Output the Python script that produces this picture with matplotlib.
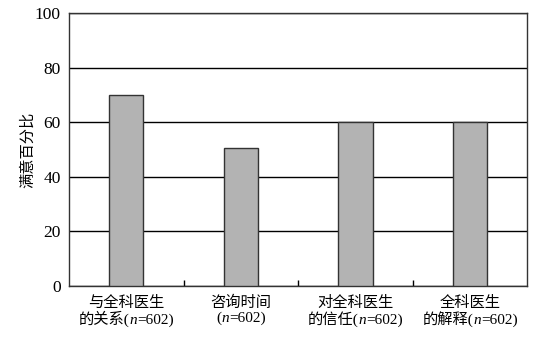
import matplotlib
matplotlib.use("Agg")
import matplotlib.pyplot as plt
import matplotlib.ticker as ticker
from matplotlib.offsetbox import TextArea, HPacker, VPacker, AnnotationBbox

# each label: first line, second line before the italic n
label_line1 = ['与全科医生', '咨询时间', '对全科医生', '全科医生']
label_line2 = ['的关系(', '(', '的信任(', '的解释(']
label_n = '602'
values = [70, 50.5, 60, 60]
y_ticks = [0, 20, 40, 60, 80, 100]

plt.rcParams['font.family'] = ['Liberation Serif', 'Noto Sans CJK SC']

fig, ax = plt.subplots(figsize=(5.39, 3.38), dpi=100)
fig.subplots_adjust(left=0.128, right=0.978, top=0.9615, bottom=0.154)

x = list(range(len(values)))
ax.set_axisbelow(True)
ax.yaxis.grid(True, color='black', linewidth=1.0)
ax.bar(x, values, width=0.3, color='#b3b3b3', edgecolor='#333333', linewidth=1.0, zorder=3)

ax.set_xlim(-0.5, len(values) - 0.5)
ax.set_ylim(0, 100)
ax.set_yticks(y_ticks)
ax.tick_params(axis='y', length=0, labelsize=12.5, pad=6)
ax.set_xticks(x)
ax.set_xticklabels([])
ax.tick_params(axis='x', which='major', length=0)
ax.xaxis.set_minor_locator(ticker.FixedLocator([0.5, 1.5, 2.5]))
ax.tick_params(axis='x', which='minor', direction='in', length=4, width=1)

for s in ax.spines.values():
    s.set_color('#333333')
    s.set_linewidth(1.0)

# two-line category labels with an italic n
fs = 11
for xi, l1, l2 in zip(x, label_line1, label_line2):
    top = TextArea(l1, textprops=dict(fontsize=fs))
    parts = [TextArea(l2, textprops=dict(fontsize=fs)),
             TextArea('n', textprops=dict(fontsize=fs, style='italic')),
             TextArea('=' + label_n + ')', textprops=dict(fontsize=fs))]
    bottom = HPacker(children=parts, align='baseline', pad=0, sep=0)
    box = VPacker(children=[top, bottom], align='center', pad=0, sep=1)
    ab = AnnotationBbox(box, (xi, 0), xycoords=('data', 'axes fraction'),
                        xybox=(0, -7), boxcoords='offset points',
                        box_alignment=(0.5, 1), frameon=False, annotation_clip=False)
    ax.add_artist(ab)

ax.set_ylabel('满意百分比', fontsize=11, labelpad=0)

plt.savefig('out.png', dpi=100)
